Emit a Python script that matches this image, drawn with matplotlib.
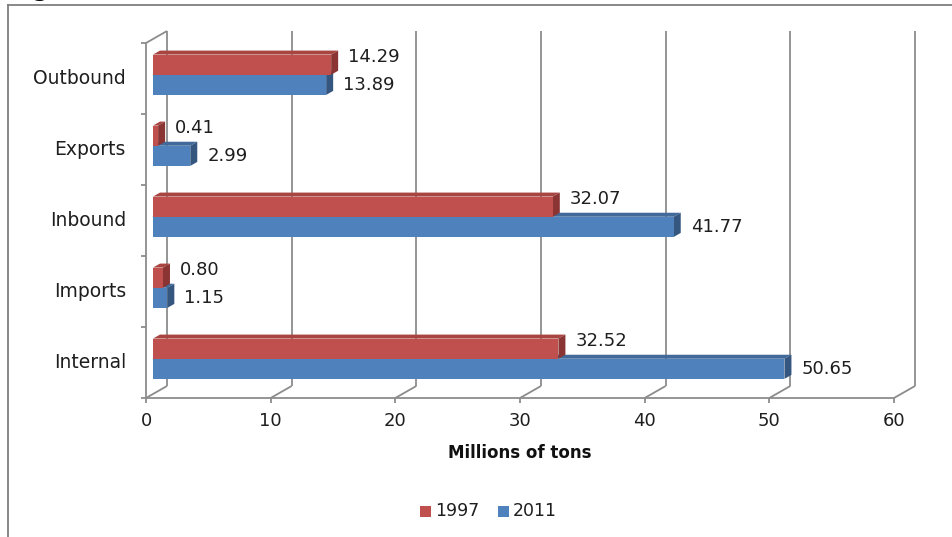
import numpy as np
import matplotlib
matplotlib.use("Agg")
import matplotlib.pyplot as plt
from matplotlib.patches import Polygon, Rectangle
from matplotlib.lines import Line2D

# freight flows, millions of tons
categories = ["Internal", "Imports", "Inbound", "Exports", "Outbound"]
values_1997 = [32.52, 0.80, 32.07, 0.41, 14.29]
values_2011 = [50.65, 1.15, 41.77, 2.99, 13.89]
x_ticks = [0, 10, 20, 30, 40, 50, 60]

RED = "#C0504D"
RED_TOP = "#A94541"
RED_SIDE = "#8A3533"
BLUE = "#4F81BD"
BLUE_TOP = "#41699A"
BLUE_SIDE = "#34567F"
GRID = "#8C8C8C"
TXT = "#1E1E1E"

W, H = 952, 537
fig = plt.figure(figsize=(W / 100, H / 100), dpi=100)

# front plane of the 3d plot area, in pixels
left, right, bottom, top = 146, 894, 398, 43
ax = fig.add_axes([left / W, (H - bottom) / H, (right - left) / W, (bottom - top) / H])
ax.set_xlim(0, 60)
ax.set_ylim(0, 5)
ax.axis("off")

# pixel -> data helpers
sx = 60 / (right - left)
sy = 5 / (bottom - top)
depth_x, depth_y = 21 * sx, 12 * sy      # wall depth
bar_x = 7 * sx                           # bars sit a bit behind the front plane
bar_dx, bar_dy = 7 * sx, 4 * sy          # bar depth


def line(xs, ys, **kw):
    ax.add_line(Line2D(xs, ys, color=GRID, lw=1.3, clip_on=False,
                       solid_capstyle="butt", zorder=1, **kw))


# back wall gridlines and floor diagonals
for t in x_ticks:
    line([t + depth_x, t + depth_x], [depth_y, 5 + depth_y])
    line([t, t + depth_x], [0, depth_y])
    line([t, t], [0, -5 * sy])
# front axis lines
line([0, 60], [0, 0])
line([0, 0], [0, 5])
line([0, depth_x], [5, 5 + depth_y])
for k in range(6):
    line([-5 * sx, 0], [k, k])


def bar3d(y0, h, v, front, topc, side, z):
    x0, x1 = bar_x, bar_x + v
    y1 = y0 + h
    ax.add_patch(Polygon([(x0, y1), (x1, y1), (x1 + bar_dx, y1 + bar_dy),
                          (x0 + bar_dx, y1 + bar_dy)], closed=True,
                         facecolor=topc, edgecolor="none", clip_on=False, zorder=z))
    ax.add_patch(Polygon([(x1, y0), (x1 + bar_dx, y0 + bar_dy),
                          (x1 + bar_dx, y1 + bar_dy), (x1, y1)], closed=True,
                         facecolor=side, edgecolor="none", clip_on=False, zorder=z))
    ax.add_patch(Rectangle((x0, y0), v, h, facecolor=front, edgecolor="none",
                           clip_on=False, zorder=z))


bh = 0.284
mid = 0.553
gap = 10 * sx
for i, cat in enumerate(categories):
    v97, v11 = values_1997[i], values_2011[i]
    bar3d(i + mid - bh, bh, v11, BLUE, BLUE_TOP, BLUE_SIDE, 3)
    bar3d(i + mid, bh, v97, RED, RED_TOP, RED_SIDE, 4)
    ax.text(bar_x + v97 + bar_dx + gap, i + mid + bh / 2 + 8 * sy, f"{v97:.2f}",
            fontsize=13, color=TXT, va="center", ha="left")
    ax.text(bar_x + v11 + bar_dx + gap, i + mid - bh / 2, f"{v11:.2f}",
            fontsize=13, color=TXT, va="center", ha="left")
    ax.text(-20 * sx, i + 0.5, cat, fontsize=13.5, color=TXT,
            va="center", ha="right")

for t in x_ticks:
    ax.text(t, -23 * sy, str(t), fontsize=13, color=TXT,
            ha="center", va="center")

ax.text(30, -55 * sy, "Millions of tons", fontsize=12,
        fontweight="bold", color="#111111", ha="center", va="center")

# legend
leg_y = (H - 511) / H
fig.patches.append(Rectangle((420 / W, leg_y - 5.5 / H), 11 / W, 11 / H,
                             transform=fig.transFigure, facecolor=RED,
                             edgecolor="none"))
fig.text(435 / W, leg_y, "1997", fontsize=12.5, color=TXT, va="center")
fig.patches.append(Rectangle((498 / W, leg_y - 5.5 / H), 11 / W, 11 / H,
                             transform=fig.transFigure, facecolor=BLUE,
                             edgecolor="none"))
fig.text(513 / W, leg_y, "2011", fontsize=12.5, color=TXT, va="center")

# chart frame
fig.add_artist(Line2D([7.5 / W, 7.5 / W], [0, (H - 4.5) / H], color="#7F7F7F",
                      lw=1.3, transform=fig.transFigure))
fig.add_artist(Line2D([7.5 / W, 1], [(H - 4.5) / H, (H - 4.5) / H],
                      color="#7F7F7F", lw=1.3, transform=fig.transFigure))

# caption above the chart, mostly cut off at the top edge
fig.text(10 / W, (H + 3) / H, "Figure", fontsize=16, fontweight="bold",
         color="black", va="baseline", ha="left")

fig.savefig("out.png", dpi=100, facecolor="white")
